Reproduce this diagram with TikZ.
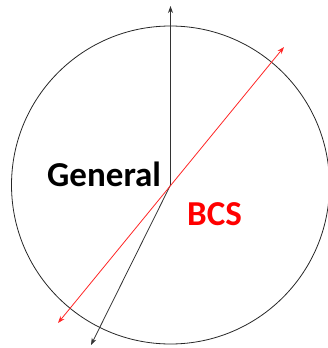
\documentclass[tikz,border=0pt]{standalone}
\usepackage{fontspec}
\setsansfont{Carlito}
\usepackage{xcolor}
\usepackage{tikz}
\usetikzlibrary{arrows.meta, positioning, calc}

\begin{document}
\begin{tikzpicture}[
    x=1pt, y=-1pt,
    font=\sffamily\bfseries\fontsize{35}{41}\selectfont,
    sphere/.style={draw=black!85, line width=0.8pt},
    axis/.style={-{Stealth[length=7pt, width=5pt]}, draw=black!80, line width=0.8pt},
    bcsaxis/.style={{Stealth[length=7pt, width=5pt]}-{Stealth[length=7pt, width=5pt]}, draw=red!85, line width=0.8pt},
    label/.style={inner sep=0pt}
]
\useasboundingbox (0,0) rectangle (328,348);

% 1. Sphere
\coordinate (o) at (170.5,185);
\draw[sphere] (o) circle[radius=159];

% 2. Axis end points
\coordinate (top) at (170.5,6);
\coordinate (low) at (91,345);
\coordinate (bcslow) at (58,323);
\coordinate (bcshigh) at (284,47);

% 3. Axes
\draw[axis] (o) -- (top);
\draw[axis] (o) -- (low);
\draw[bcsaxis] (bcslow) -- (bcshigh);

% 4. Labels
\node[label, anchor=base west] (general) at (47,186) {General};
\node[label, anchor=base west, text=red] (bcs) at (187,225) {BCS};

\end{tikzpicture}
\end{document}
